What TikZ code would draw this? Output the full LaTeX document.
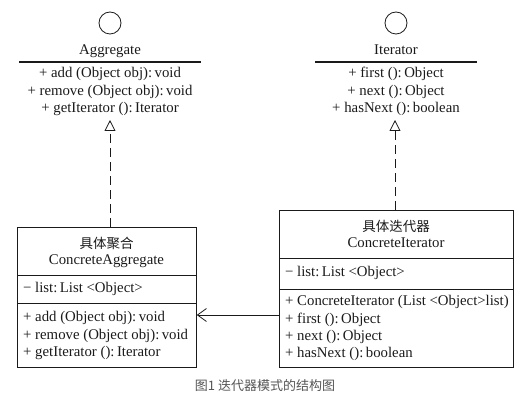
\documentclass[tikz,border=0pt]{standalone}
\usepackage{fontspec}
\setmainfont{Liberation Serif}
\newfontfamily\cjk{Noto Sans CJK SC}
\usetikzlibrary{arrows.meta}
\definecolor{ink}{HTML}{1A1A1A}
\definecolor{capgray}{HTML}{555555}
\begin{document}
\begin{tikzpicture}[x=1pt,y=-1pt,
  txt/.style={font=\fontsize{14.8}{17}\selectfont, text=ink, inner sep=0pt, text height=10pt, text depth=3pt},
  ltxt/.style={txt, anchor=west},
  cjktitle/.style={font=\cjk\fontsize{13.5}{15}\selectfont, text=ink, inner sep=0pt},
  classbox/.style={draw=ink, line width=0.8pt, inner sep=0pt, anchor=north west},
  sepline/.style={draw=ink, line width=0.8pt},
  iface/.style={draw=ink, circle, minimum size=22pt, inner sep=0pt, line width=0.8pt},
  realize/.style={draw=ink, line width=0.8pt, dash pattern=on 9pt off 5pt, -{Triangle[open, length=11pt, width=11pt]}},
  assoc/.style={draw=ink, line width=0.8pt, -{Straight Barb[length=9pt, width=13pt]}}]
\useasboundingbox (0,0) rectangle (531,406);

% Aggregate interface
\node[iface] (aggc) at (110,23) {};
\node[txt] (aggn) at (110,51) {Aggregate};
\draw[sepline, line width=1.1pt] (19,62) -- (201,62);
\node[txt] (agg1) at (110,74) {+ add (Object obj):\,void};
\node[txt] (agg2) at (110,92) {+ remove (Object obj):\,void};
\node[txt] (agg3) at (110,109) {+ getIterator ():\,Iterator};
\coordinate (aggtip) at (110,120);

% Iterator interface
\node[iface] (itc) at (396,23) {};
\node[txt] (itn) at (396,51) {Iterator};
\draw[sepline, line width=1.1pt] (315,62) -- (477,62);
\node[txt] (it1) at (396,74) {+ first ():\,Object};
\node[txt] (it2) at (396,92) {+ next ():\,Object};
\node[txt] (it3) at (396,109) {+ hasNext ():\,boolean};
\coordinate (ittip) at (395,120);

% ConcreteAggregate
\node[classbox, minimum width=179pt, minimum height=140pt] (ca) at (17,227) {};
\draw[sepline] (17,275) -- (196,275);
\draw[sepline] (17,303) -- (196,303);
\node[cjktitle] (cat1) at (106.5,243) {具体聚合};
\node[txt] (cat2) at (106.5,261) {ConcreteAggregate};
\node[ltxt] (caa) at (23,289) {− list:\,List <Object>};
\node[ltxt] (cam1) at (23,318) {+ add (Object obj):\,void};
\node[ltxt] (cam2) at (23,336) {+ remove (Object obj):\,void};
\node[ltxt] (cam3) at (23,353) {+ getIterator ():\,Iterator};

% ConcreteIterator
\node[classbox, minimum width=234pt, minimum height=157pt] (ci) at (279,210) {};
\draw[sepline] (279,258) -- (513,258);
\draw[sepline] (279,289) -- (513,289);
\node[cjktitle] (cit1) at (396,226) {具体迭代器};
\node[txt] (cit2) at (396,244) {ConcreteIterator};
\node[ltxt] (cia) at (285,273) {− list:\,List <Object>};
\node[ltxt] (cim1) at (285,302) {+ ConcreteIterator (List <Object>list)};
\node[ltxt] (cim2) at (285,320) {+ first ():\,Object};
\node[ltxt] (cim3) at (285,337) {+ next ():\,Object};
\node[ltxt] (cim4) at (285,354) {+ hasNext ():\,boolean};

% connectors
\draw[realize] (ca.north -| aggtip) -- (aggtip);
\draw[realize] (ci.north -| ittip) -- (ittip);
\coordinate (arry) at (0,315);
\draw[assoc] (ci.west |- arry) -- (ca.east |- arry);

% caption
\node[font=\cjk\fontsize{13}{15}\selectfont, text=capgray, inner sep=0pt] (cap) at (265,386) {图1 迭代器模式的结构图};
\end{tikzpicture}
\end{document}
